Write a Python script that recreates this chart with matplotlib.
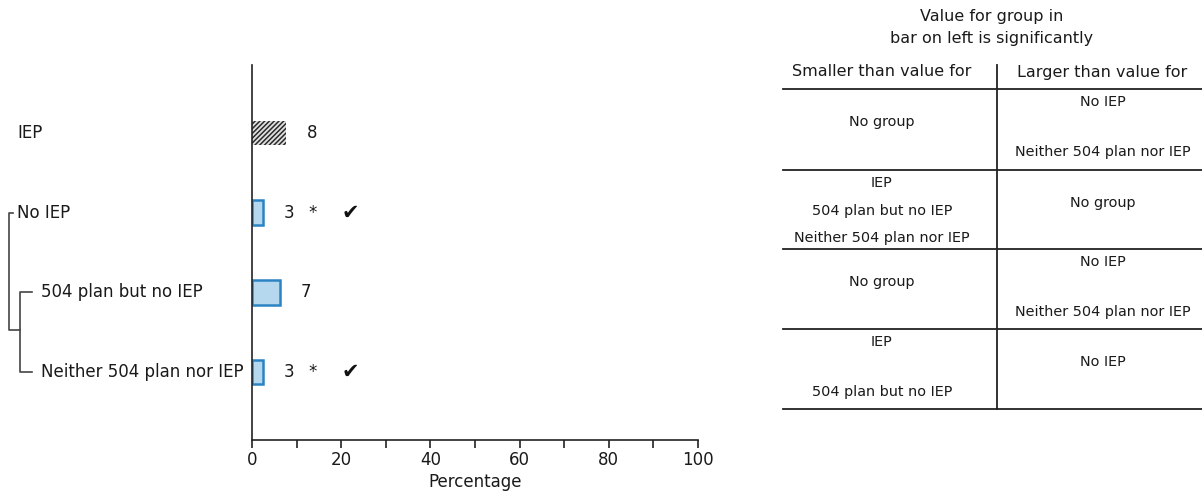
import matplotlib
matplotlib.use("Agg")
import matplotlib.pyplot as plt
from matplotlib.lines import Line2D

plt.rcParams['font.family'] = ['DejaVu Sans']
plt.rcParams['hatch.linewidth'] = 1.1

# ---------------- data ----------------
categories = ["IEP", "No IEP", "504 plan but no IEP", "Neither 504 plan nor IEP"]
values = [7.6, 2.5, 6.2, 2.5]
value_labels = ["8", "3", "7", "3"]
significant = [False, True, False, True]      # asterisk
check_marks = [False, True, False, True]      # check mark
indent = [0, 0, 1, 1]
x_ticks = [0, 20, 40, 60, 80, 100]
x_minor = [10, 30, 50, 70, 90]
x_label = "Percentage"

table_title = ["Value for group in", "bar on left is significantly"]
table_headers = ["Smaller than value for", "Larger than value for"]
smaller_than = [
    [None, "No group", None],
    ["IEP", "504 plan but no IEP", "Neither 504 plan nor IEP"],
    [None, "No group", None],
    ["IEP", None, "504 plan but no IEP"],
]
larger_than = [
    ["No IEP", None, "Neither 504 plan nor IEP"],
    [None, "No group", None],
    ["No IEP", None, "Neither 504 plan nor IEP"],
    [None, "No IEP", None],
]

# ---------------- figure ----------------
W, H = 1202, 495
fig = plt.figure(figsize=(W / 100, H / 100), dpi=100)
fig.patch.set_facecolor("white")

TXT = "#1a1a1a"
FS = 12
ax = fig.add_axes([252 / W, 1 - 440 / H, (698 - 252) / W, (440 - 65) / H])
ypos = list(range(len(categories)))
ax.set_xlim(0, 100)
ax.set_ylim(3.853, -0.853)

bar_h = 0.31
for i, (v, cat) in enumerate(zip(values, categories)):
    if i == 0:
        ax.barh(ypos[i], v, height=bar_h, color="#e0e0e0", edgecolor="#2a2a2a",
                hatch="///////", linewidth=0, zorder=2)
    else:
        ax.barh(ypos[i], v, height=bar_h, color="#b5d8ee", edgecolor="#2b83c3",
                linewidth=1.8, zorder=2)
    ax.annotate(value_labels[i], xy=(v, ypos[i]), xytext=(26, 0),
                textcoords="offset pixels",
                ha="center", va="center", fontsize=FS, color=TXT)
    if significant[i]:
        ax.text(13.7, ypos[i], "*", ha="center", va="center", fontsize=FS, color=TXT)
    if check_marks[i]:
        ax.text(22.0, ypos[i], "\u2714", ha="center", va="center", fontsize=15,
                color="#111111", style="italic")

for s in ["top", "right"]:
    ax.spines[s].set_visible(False)
for s in ["left", "bottom"]:
    ax.spines[s].set_color("#222222")
    ax.spines[s].set_linewidth(1.2)
ax.set_yticks([])
ax.set_xticks(x_ticks)
ax.set_xticks(x_minor, minor=True)
ax.tick_params(axis="x", which="both", length=6, width=1.2, color="#222222",
               labelsize=FS, labelcolor=TXT, pad=2)
ax.set_xlabel(x_label, fontsize=FS, color=TXT, labelpad=3)

# overlay axes in pixel coordinates for labels, bracket and table
ov = fig.add_axes([0, 0, 1, 1], zorder=-1)
ov.set_xlim(0, W)
ov.set_ylim(H, 0)
ov.axis("off")

to_pix = lambda y: H - ax.transData.transform((0, y))[1]
for i, cat in enumerate(categories):
    yp = to_pix(ypos[i])
    xp = 17 if indent[i] == 0 else 41
    ov.text(xp, yp, cat, ha="left", va="center", fontsize=FS, color=TXT)

# bracket
BC = "#444444"
y_no = to_pix(ypos[1])
y_504 = to_pix(ypos[2])
y_nei = to_pix(ypos[3])
y_mid = (y_504 + y_nei) / 2 - 2
ov.add_line(Line2D([13, 9, 9, 20], [y_no, y_no, y_mid, y_mid], color=BC, lw=1.2))
ov.add_line(Line2D([32, 20, 20, 32], [y_504, y_504, y_nei, y_nei], color=BC, lw=1.2))

# table
TL, TR, TD = 783, 1202, 997
HFS = 11.5
CFS = 10.4
ov.text(992, 16, table_title[0], ha="center", va="center", fontsize=HFS, color=TXT)
ov.text(992, 38, table_title[1], ha="center", va="center", fontsize=HFS, color=TXT)
ov.text(882, 72, table_headers[0], ha="center", va="center", fontsize=HFS, color=TXT)
ov.text(1102, 72, table_headers[1], ha="center", va="center", fontsize=HFS, color=TXT)
row_tops = [89, 170, 249, 329, 409]
for y in row_tops:
    ov.add_line(Line2D([TL, TR], [y, y], color="#222222", lw=1.3))
ov.add_line(Line2D([TD, TD], [65, 409], color="#222222", lw=1.3))


def draw_cell(items, top, xc):
    present = [t for t in items if t is not None]
    if len(present) == 1 and items[1] is not None:
        ov.text(xc, top + 33, items[1], ha="center", va="center", fontsize=CFS, color=TXT)
        return
    offs = [13, 40.5, 68] if len(present) == 3 else [13, 38, 63]
    for k, t in enumerate(items):
        if t is not None:
            ov.text(xc, top + offs[k], t, ha="center", va="center",
                    fontsize=CFS, color=TXT)


for r in range(4):
    draw_cell(smaller_than[r], row_tops[r], 882)
    draw_cell(larger_than[r], row_tops[r], 1103)

fig.savefig("out.png", dpi=100)
